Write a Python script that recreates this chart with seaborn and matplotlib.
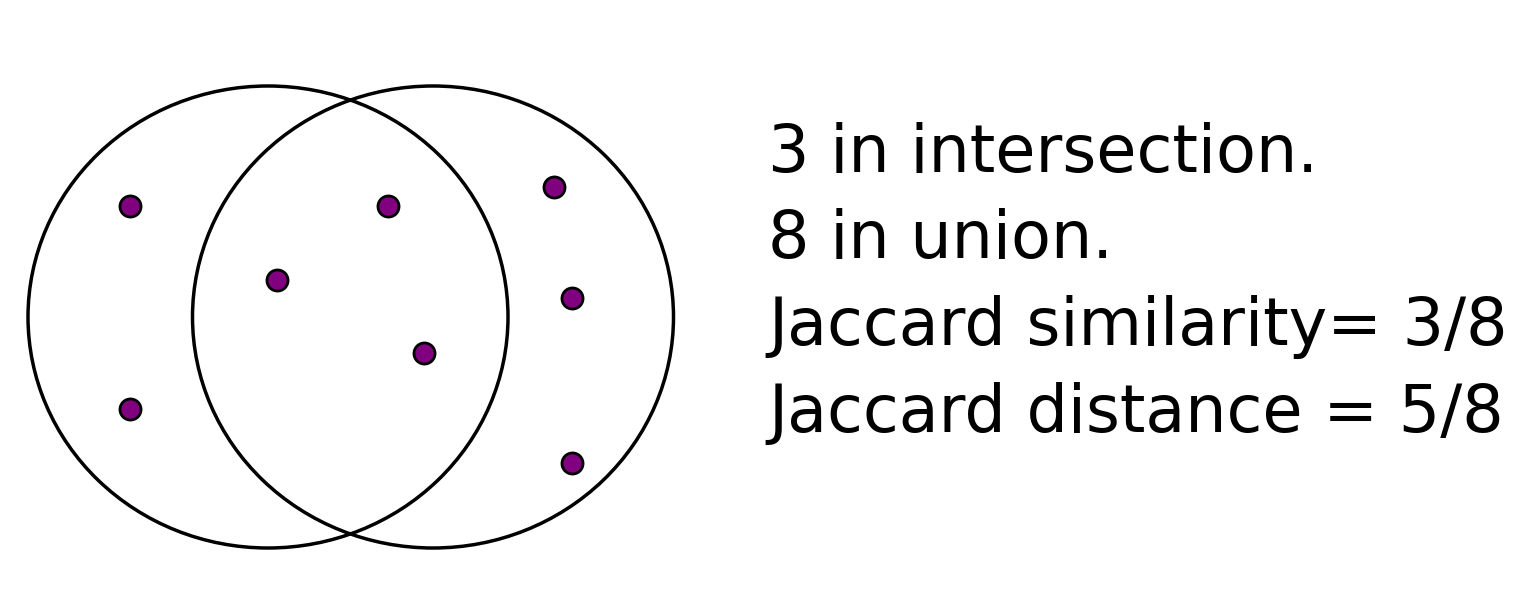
import matplotlib
matplotlib.use("Agg")
import matplotlib.pyplot as plt
from matplotlib.patches import Ellipse
import seaborn as sns
import pandas as pd

# two sets drawn as circles (center x, center y, width, height) in pixel-like units
set_names = ["A", "B"]
set_cx = [268, 433]
set_cy = [317, 317]
set_w = [480, 481]
set_h = [462, 462]

# the 8 elements of the union
point_x = [130, 130, 277, 388, 424, 554, 572, 572]
point_y = [206, 409, 280, 206, 353, 187, 298, 463]

text_lines = [
    "3 in intersection.",
    "8 in union.",
    "Jaccard similarity= 3/8",
    "Jaccard distance = 5/8",
]
text_baselines = [172, 258, 345, 432]

sns.set_style("white")
plt.rcParams['font.family'] = ['DejaVu Sans']

fig = plt.figure(figsize=(15.31, 5.96), dpi=100)
ax = fig.add_axes([0, 0, 1, 1])

for i in range(len(set_names)):
    ax.add_patch(Ellipse((set_cx[i], set_cy[i]), set_w[i], set_h[i],
                         fill=False, edgecolor='black', linewidth=2.5))

pts = pd.DataFrame({'x': point_x, 'y': point_y})
sns.scatterplot(data=pts, x='x', y='y', ax=ax, s=230, color='#800080',
                edgecolor='black', linewidth=2.0, zorder=3)

for line, yb in zip(text_lines, text_baselines):
    ax.text(768, yb, line, fontsize=47, va='baseline', ha='left', color='black')

ax.set_xlim(0, 1531)
ax.set_ylim(596, 0)
ax.set_axis_off()

fig.savefig("out.png", dpi=100)
